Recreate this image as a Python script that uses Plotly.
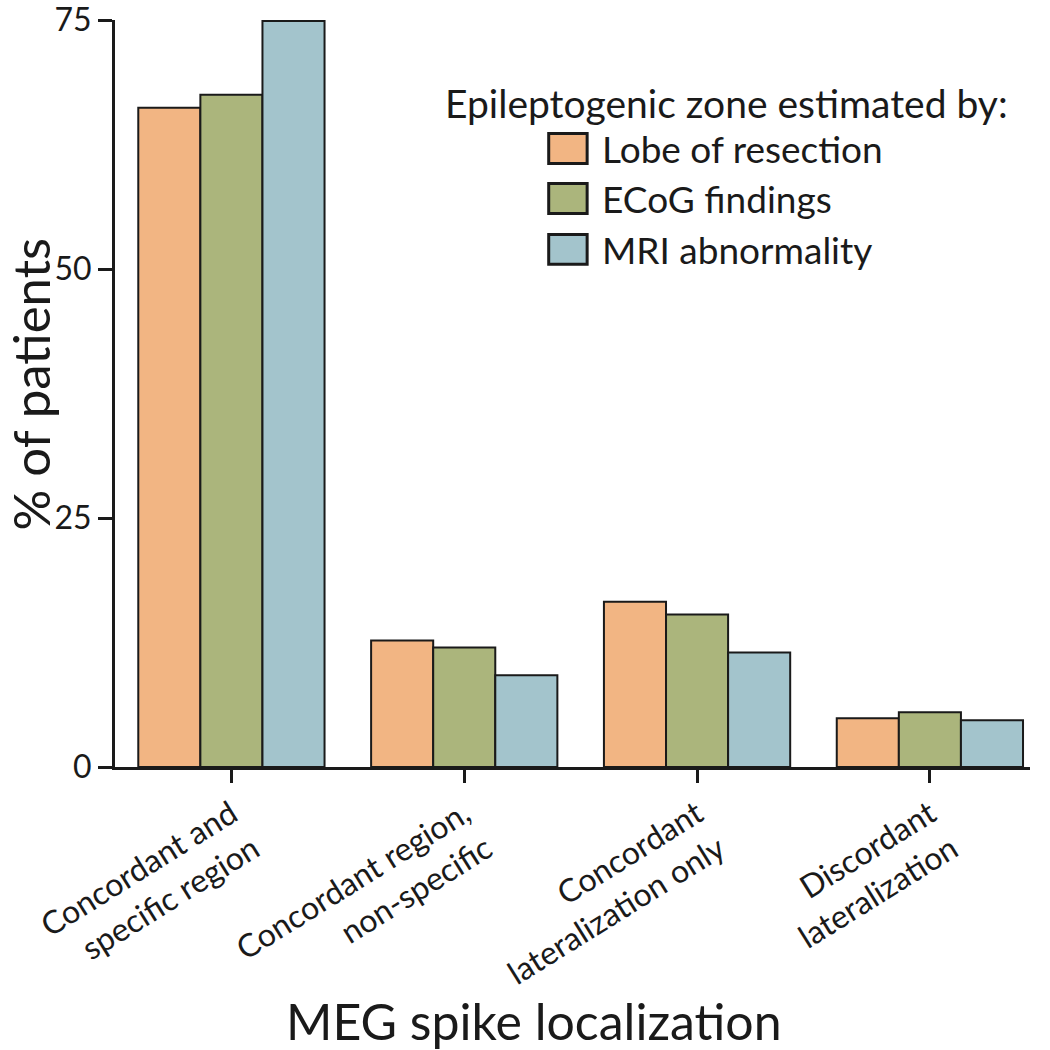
import plotly.graph_objects as go

categories = ["Concordant and<br>specific region", "Concordant region,<br>non-specific",
              "Concordant<br>lateralization only", "Discordant<br>lateralization"]
series_names = ["Lobe of resection", "ECoG findings", "MRI abnormality"]
lobe = [66.2, 12.7, 16.6, 4.9]
ecog = [67.5, 12.0, 15.3, 5.5]
mri = [74.9, 9.2, 11.5, 4.7]
colors = ["#F2B583", "#ABB57C", "#A3C4CC"]
y_ticks = [0, 25, 50, 75]
legend_title = "Epileptogenic zone estimated by:"
x_title = "MEG spike localization"
y_title = "% of patients"

FONT = "Lato"
INK = "#1a1a1a"

fig = go.Figure()
for name, vals, col in zip(series_names, [lobe, ecog, mri], colors):
    fig.add_trace(go.Bar(x=list(range(len(categories))), y=vals, name=name,
                         marker=dict(color=col, line=dict(color=INK, width=2)),
                         showlegend=False))

fig.update_layout(
    width=1050, height=1050,
    paper_bgcolor="white", plot_bgcolor="white",
    margin=dict(l=115, r=20, t=20, b=283),
    barmode="group", bargap=0.2, bargroupgap=0,
    font=dict(family=FONT, color=INK),
    xaxis=dict(range=[-0.5, 3.43], tickmode="array", tickvals=list(range(len(categories))),
               ticktext=categories, tickangle=-32, ticks="outside", ticklen=13, tickwidth=3,
               tickcolor=INK, showline=True, linecolor=INK, linewidth=3, showgrid=False,
               zeroline=False, automargin=False, ticklabeloverflow="allow",
               tickfont=dict(size=32, family=FONT, color=INK)),
    yaxis=dict(range=[0, 75], tickmode="array", tickvals=y_ticks, ticks="outside", ticklen=14,
               tickwidth=3, tickcolor=INK, showline=True, linecolor=INK, linewidth=3,
               showgrid=False, zeroline=False, automargin=False, ticklabeloverflow="allow",
               tickfont=dict(size=32, family=FONT, color=INK)),
)

# axis titles
fig.add_annotation(xref="paper", yref="paper", x=0.458, y=-0.34, xanchor="center", yanchor="middle",
                   text=x_title, showarrow=False, font=dict(size=50, family=FONT, color=INK))
fig.add_annotation(xref="paper", yref="paper", x=-0.092, y=0.513, xanchor="center", yanchor="middle",
                   text=y_title, textangle=-90, showarrow=False,
                   font=dict(size=51, family=FONT, color=INK))

# manual legend (paper coordinates)
fig.add_annotation(xref="paper", yref="paper", x=0.3585, y=0.889, xanchor="left", yanchor="middle",
                   text=legend_title, showarrow=False, font=dict(size=39, family=FONT, color=INK))
box_x0, box_x1 = 0.474, 0.516
ys = [0.828, 0.761, 0.693]
for name, col, yc in zip(series_names, colors, ys):
    fig.add_shape(type="rect", xref="paper", yref="paper", x0=box_x0, x1=box_x1,
                  y0=yc - 0.02, y1=yc + 0.02, fillcolor=col, line=dict(color=INK, width=3))
    fig.add_annotation(xref="paper", yref="paper", x=0.530, y=yc, xanchor="left",
                       yanchor="middle", text=name, showarrow=False,
                       font=dict(size=37, family=FONT, color=INK))

fig.write_html("out.html", config={"displayModeBar": False},
               post_script="document.body.style.margin='0';document.body.style.overflow='hidden';")
